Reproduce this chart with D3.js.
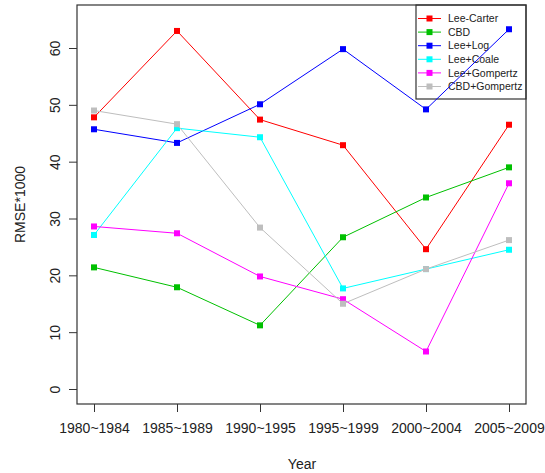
<!DOCTYPE html>
<html>
<head>
<meta charset="utf-8">
<script src="https://cdn.jsdelivr.net/npm/d3@7"></script>
<style>
  body { margin: 0; background: #fff; }
  text { font-family: "Liberation Sans", Arial, sans-serif; fill: #222; }
</style>
</head>
<body>
<div id="chart"></div>
<script>
const periods = ["1980~1984", "1985~1989", "1990~1995", "1995~1999", "2000~2004", "2005~2009"];
const yTicks = [0, 10, 20, 30, 40, 50, 60];

const leeCarter   = [47.8, 63.0, 47.4, 42.9, 24.6, 46.5];
const cbd         = [21.4, 17.9, 11.2, 26.7, 33.7, 39.0];
const leeLog      = [45.7, 43.3, 50.1, 59.8, 49.2, 63.3];
const leeCoale    = [27.1, 45.9, 44.3, 17.7, 21.1, 24.5];
const leeGompertz = [28.6, 27.4, 19.8, 15.8, 6.6, 36.2];
const cbdGompertz = [49.0, 46.6, 28.4, 15.0, 21.1, 26.2];

const seriesNames  = ["Lee-Carter", "CBD", "Lee+Log", "Lee+Coale", "Lee+Gompertz", "CBD+Gompertz"];
const seriesValues = [leeCarter, cbd, leeLog, leeCoale, leeGompertz, cbdGompertz];
const seriesColors = ["#ff0000", "#00c000", "#0000ff", "#00ffff", "#ff00ff", "#bebebe"];

const width = 545, height = 473;
const plotLeft = 77, plotRight = 526, plotTop = 5, plotBottom = 404;

const svg = d3.select('#chart').append('svg')
    .attr('width', width)
    .attr('height', height);

const x = d3.scalePoint().domain(periods).range([94, 509]);
const y = d3.scaleLinear().domain([0, 60]).range([389, 48]);

// legend box first (transparent, lines show through it like in R)
const legend = svg.append('g');
legend.append('rect')
    .attr('x', 416).attr('y', plotTop)
    .attr('width', plotRight - 416).attr('height', 94)
    .attr('fill', 'none').attr('stroke', '#333').attr('stroke-width', 1.2);
seriesNames.forEach((name, i) => {
    const ly = 18.5 + i * 13.6;
    legend.append('line')
        .attr('x1', 418).attr('x2', 441)
        .attr('y1', ly).attr('y2', ly)
        .attr('stroke', seriesColors[i]);
    legend.append('rect')
        .attr('x', 426.5).attr('y', ly - 3)
        .attr('width', 6).attr('height', 6)
        .attr('fill', seriesColors[i]);
    legend.append('text')
        .attr('x', 448).attr('y', ly)
        .attr('dy', '0.35em')
        .style('font-size', '10.5px')
        .text(name);
});

seriesValues.forEach((vals, i) => {
    const pts = periods.map((p, j) => ({ p: p, v: vals[j] }));
    svg.append('path')
        .datum(pts)
        .attr('fill', 'none')
        .attr('stroke', seriesColors[i])
        .attr('stroke-width', 1)
        .attr('d', d3.line().x(d => x(d.p)).y(d => y(d.v)));
    svg.selectAll(null)
        .data(pts)
        .enter().append('rect')
        .attr('x', d => x(d.p) - 3)
        .attr('y', d => y(d.v) - 3)
        .attr('width', 6)
        .attr('height', 6)
        .attr('fill', seriesColors[i]);
});

// frame
svg.append('rect')
    .attr('x', plotLeft).attr('y', plotTop)
    .attr('width', plotRight - plotLeft).attr('height', plotBottom - plotTop)
    .attr('fill', 'none').attr('stroke', '#333').attr('stroke-width', 1.2);

// axes
const xAxis = svg.append('g')
    .attr('transform', `translate(0,${plotBottom})`)
    .call(d3.axisBottom(x).tickSize(8).tickPadding(11));
xAxis.select('.domain').remove();
xAxis.selectAll('line').attr('stroke', '#333');
xAxis.selectAll('text').style('font-size', '14px').attr('fill', '#222');

const yAxis = svg.append('g')
    .attr('transform', `translate(${plotLeft},0)`)
    .call(d3.axisLeft(y).tickValues(yTicks).tickSize(8).tickPadding(0));
yAxis.select('.domain').remove();
yAxis.selectAll('line').attr('stroke', '#333');
yAxis.selectAll('text').remove();
yAxis.selectAll('.tick').append('text')
    .attr('transform', 'translate(-22,0) rotate(-90)')
    .attr('text-anchor', 'middle')
    .attr('dy', '0.35em')
    .style('font-size', '14px')
    .text(d => d);

// axis titles
svg.append('text')
    .attr('x', (plotLeft + plotRight) / 2 + 0.5)
    .attr('y', 469)
    .attr('text-anchor', 'middle')
    .style('font-size', '14px')
    .text('Year');

svg.append('text')
    .attr('transform', `translate(25,${(plotTop + plotBottom) / 2}) rotate(-90)`)
    .attr('text-anchor', 'middle')
    .style('font-size', '14px')
    .text('RMSE*1000');
</script>
</body>
</html>
